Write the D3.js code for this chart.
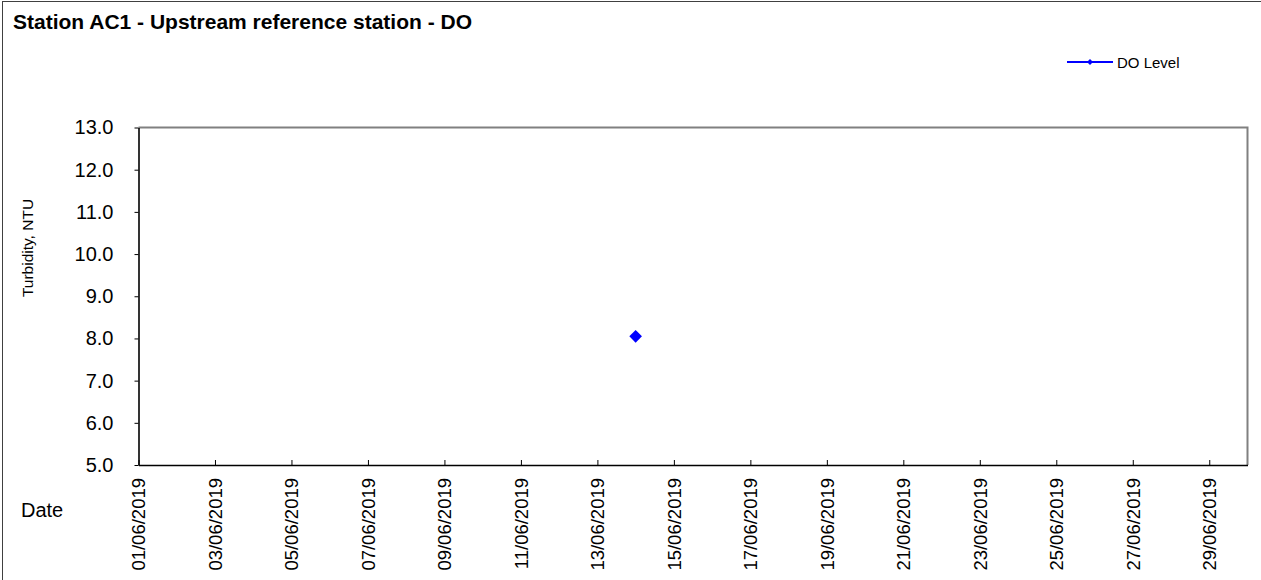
<!DOCTYPE html>
<html>
<head>
<meta charset="utf-8">
<script src="https://cdn.jsdelivr.net/npm/d3@7"></script>
<style>
  html, body { margin: 0; padding: 0; background: #fff; }
  svg { display: block; font-family: Arial, "Liberation Sans", sans-serif; }
</style>
</head>
<body>
<svg id="chart" width="1261" height="580"></svg>
<script>
// ---- data ----
const title = "Station AC1 - Upstream reference station - DO";
const seriesName = "DO Level";
const dates = ["2019-06-14"];
const doValues = [8.05];
const xDomain = ["2019-06-01", "2019-06-30"];
const xTickDates = ["2019-06-01","2019-06-03","2019-06-05","2019-06-07","2019-06-09","2019-06-11","2019-06-13","2019-06-15","2019-06-17","2019-06-19","2019-06-21","2019-06-23","2019-06-25","2019-06-27","2019-06-29"];
const yTicks = [5, 6, 7, 8, 9, 10, 11, 12, 13];
const yLabel = "Turbidity, NTU";
const xLabel = "Date";

const parse = d3.timeParse("%Y-%m-%d");
const svg = d3.select("#chart");
const W = 1261, H = 580;
const plot = { left: 138.5, right: 1247.5, top: 127.5, bottom: 465 };

// outer border
svg.append("rect").attr("x", 2.5).attr("y", 1.5).attr("width", W + 10).attr("height", H + 10)
  .attr("fill", "#fff").attr("stroke", "#404040").attr("stroke-width", 1);

const x = d3.scaleTime().domain(xDomain.map(parse)).range([plot.left, plot.right]);
const y = d3.scaleLinear().domain([5, 13]).range([plot.bottom, plot.top]);

// plot frame (top/right gray)
svg.append("path")
  .attr("d", `M${plot.left},${plot.top}H${plot.right}V${plot.bottom}`)
  .attr("fill", "none").attr("stroke", "#808080").attr("stroke-width", 2);

// title
svg.append("text").attr("x", 13).attr("y", 29).attr("font-size", 21).attr("font-weight", "bold")
  .attr("fill", "#000").text(title);

// y axis
const yAxis = d3.axisLeft(y).tickValues(yTicks).tickFormat(d3.format(".1f")).tickSize(4).tickSizeOuter(0);
const gy = svg.append("g").attr("transform", `translate(${plot.left},0)`).call(yAxis);
gy.select(".domain").attr("stroke", "#000").attr("stroke-width", 1.6);
gy.selectAll(".tick line").attr("stroke", "#000");
gy.selectAll(".tick text").attr("font-size", 20).attr("fill", "#000").attr("x", -25)
  .attr("font-family", "Arial, 'Liberation Sans', sans-serif");

// x axis (ticks pointing inward)
const xAxis = d3.axisBottom(x).tickValues(xTickDates.map(parse)).tickFormat(d3.timeFormat("%d/%m/%Y"))
  .tickSize(-5).tickSizeOuter(0);
const gx = svg.append("g").attr("transform", `translate(0,${plot.bottom})`).call(xAxis);
gx.select(".domain").attr("stroke", "#000").attr("stroke-width", 1.6);
gx.selectAll(".tick line").attr("stroke", "#000");
gx.selectAll(".tick text")
  .attr("font-size", 18.5).attr("fill", "#000")
  .attr("font-family", "Arial, 'Liberation Sans', sans-serif")
  .attr("text-anchor", "end").attr("dy", "0.35em")
  .attr("transform", "translate(0,13) rotate(-90)")
  .attr("x", 0).attr("y", 0);

// axis titles
svg.append("text").attr("transform", "translate(33,248) rotate(-90)")
  .attr("text-anchor", "middle").attr("font-size", 15.5).attr("fill", "#000").text(yLabel);
svg.append("text").attr("x", 21).attr("y", 517).attr("font-size", 20).attr("fill", "#000").text(xLabel);

// series
const pts = dates.map((d, i) => ({ date: parse(d), v: doValues[i] }));
const line = d3.line().x(d => x(d.date)).y(d => y(d.v));
svg.append("path").datum(pts).attr("d", line).attr("fill", "none").attr("stroke", "#0000ff").attr("stroke-width", 2);
svg.selectAll(".pt").data(pts).enter().append("path")
  .attr("transform", d => `translate(${x(d.date)},${y(d.v)}) rotate(45)`)
  .attr("d", d3.symbol().type(d3.symbolSquare).size(80)).attr("fill", "#0000ff");

// legend
const lg = svg.append("g").attr("transform", "translate(1067,62)");
lg.append("line").attr("x1", 0).attr("x2", 46).attr("y1", 0).attr("y2", 0).attr("stroke", "#0000ff").attr("stroke-width", 2);
lg.append("path").attr("transform", "translate(23,0) rotate(45)").attr("d", d3.symbol().type(d3.symbolSquare).size(18)).attr("fill", "#0000ff");
lg.append("text").attr("x", 50).attr("y", 5.5).attr("font-size", 15).attr("fill", "#000").text(seriesName);
</script>
</body>
</html>
